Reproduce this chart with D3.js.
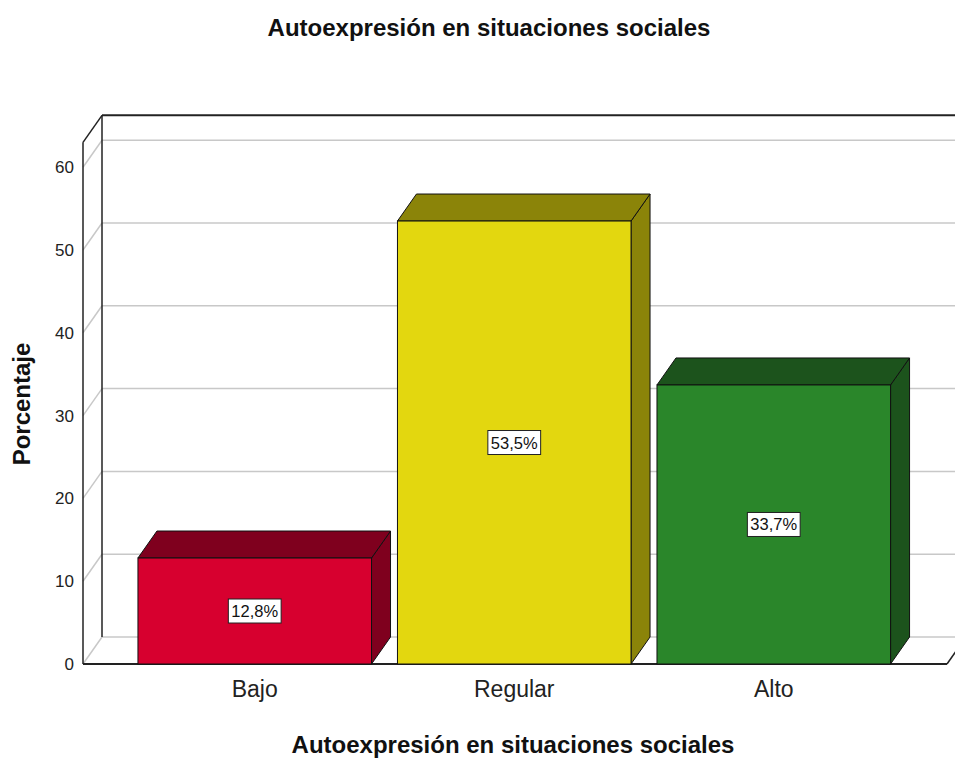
<!DOCTYPE html>
<html>
<head>
<meta charset="utf-8">
<script src="https://cdn.jsdelivr.net/npm/d3@7"></script>
<style>
  body { margin: 0; background: #fff; }
  svg { font-family: "Liberation Sans", Arial, sans-serif; }
</style>
</head>
<body>
<div id="chart"></div>
<script>
"use strict";

// data
var categories = ["Bajo", "Regular", "Alto"];
var percents = [12.8, 53.5, 33.7];
var labels = ["12,8%", "53,5%", "33,7%"];
var yTicks = [0, 10, 20, 30, 40, 50, 60];
var frontColors = ["#d7002f", "#e3d70f", "#2a862a"];
var darkColors = ["#7f001e", "#8b8409", "#1c531c"];

var W = 955, H = 760;
var dx = 19, dy = -27;          // depth offset of the 3d look
var left = 83, right = 947;     // front floor edge

var svg = d3.select("#chart").append("svg")
  .attr("width", W)
  .attr("height", H);

var y = d3.scaleLinear()
  .domain([0, 63])
  .range([664, 664 - 63 * 8.28]);

var x = d3.scaleBand()
  .domain(categories)
  .range([112, 916.5])
  .paddingInner(0.1)
  .paddingOuter(0.1);

// floor
svg.append("polygon")
  .attr("points", [[left, y(0)], [right, y(0)], [right + dx, y(0) + dy], [left + dx, y(0) + dy]].join(" "))
  .attr("fill", "#fff");

// back wall grid + left wall grid
yTicks.forEach(function(v) {
  svg.append("line")
    .attr("x1", left + dx).attr("x2", W + 20)
    .attr("y1", y(v) + dy).attr("y2", y(v) + dy)
    .attr("stroke", "#c8c8c8").attr("stroke-width", 1.5);
  svg.append("line")
    .attr("x1", left).attr("x2", left + dx)
    .attr("y1", y(v)).attr("y2", y(v) + dy)
    .attr("stroke", "#c8c8c8").attr("stroke-width", 1.5);
});

// wall frame
svg.append("line")
  .attr("x1", left + dx).attr("x2", left + dx)
  .attr("y1", y(0) + dy).attr("y2", y(63) + dy)
  .attr("stroke", "#222").attr("stroke-width", 1.5);
svg.append("line")
  .attr("x1", left + dx).attr("x2", W + 20)
  .attr("y1", y(63) + dy).attr("y2", y(63) + dy)
  .attr("stroke", "#222").attr("stroke-width", 2);
svg.append("line")
  .attr("x1", left).attr("x2", left + dx)
  .attr("y1", y(63)).attr("y2", y(63) + dy)
  .attr("stroke", "#222").attr("stroke-width", 1.5);

// floor edges
svg.append("line")
  .attr("x1", left).attr("x2", right)
  .attr("y1", y(0)).attr("y2", y(0))
  .attr("stroke", "#222").attr("stroke-width", 2);
svg.append("line")
  .attr("x1", right).attr("x2", right + dx)
  .attr("y1", y(0)).attr("y2", y(0) + dy)
  .attr("stroke", "#222").attr("stroke-width", 1.5);

// bars
var bars = svg.selectAll(".bar")
  .data(percents)
  .enter().append("g")
  .attr("class", "bar");

bars.each(function(d, i) {
  var g = d3.select(this);
  var x0 = x(categories[i]), x1 = x0 + x.bandwidth();
  var yt = y(d), yb = y(0);

  g.append("polygon")
    .attr("points", [[x1, yt], [x1 + dx, yt + dy], [x1 + dx, yb + dy], [x1, yb]].join(" "))
    .attr("fill", darkColors[i]).attr("stroke", "#111").attr("stroke-width", 1);
  g.append("polygon")
    .attr("points", [[x0, yt], [x0 + dx, yt + dy], [x1 + dx, yt + dy], [x1, yt]].join(" "))
    .attr("fill", darkColors[i]).attr("stroke", "#111").attr("stroke-width", 1);
  g.append("rect")
    .attr("x", x0).attr("y", yt)
    .attr("width", x.bandwidth()).attr("height", yb - yt)
    .attr("fill", frontColors[i]).attr("stroke", "#111").attr("stroke-width", 1);

  var cx = x0 + x.bandwidth() / 2, cy = (yt + yb) / 2;
  var box = g.append("rect")
    .attr("fill", "#fff").attr("stroke", "#222").attr("stroke-width", 1);
  var t = g.append("text")
    .attr("x", cx).attr("y", cy + 6)
    .attr("text-anchor", "middle")
    .attr("font-size", 16.5)
    .attr("fill", "#111")
    .text(labels[i]);
  var tw = t.node().getComputedTextLength();
  box.attr("x", cx - tw / 2 - 3).attr("y", cy - 12)
    .attr("width", tw + 6).attr("height", 24);
});

// y axis
var yAxis = svg.append("g")
  .attr("transform", "translate(" + left + ",0)")
  .call(d3.axisLeft(y).tickValues(yTicks).tickSize(0).tickPadding(9));
yAxis.select(".domain").remove();
yAxis.selectAll("text").attr("font-size", 17).attr("fill", "#222").style("font-family", "Liberation Sans, Arial, sans-serif");
svg.append("line")
  .attr("x1", left).attr("x2", left)
  .attr("y1", y(0)).attr("y2", y(63))
  .attr("stroke", "#222").attr("stroke-width", 1.5);

// x axis labels
var xAxis = svg.append("g")
  .attr("transform", "translate(0," + y(0) + ")")
  .call(d3.axisBottom(x).tickSize(0).tickPadding(17));
xAxis.select(".domain").remove();
xAxis.selectAll("text").attr("font-size", 23).attr("fill", "#222").style("font-family", "Liberation Sans, Arial, sans-serif");

// titles
svg.append("text")
  .attr("x", 489).attr("y", 36)
  .attr("text-anchor", "middle")
  .attr("font-size", 24).attr("font-weight", "bold")
  .attr("fill", "#111")
  .text("Autoexpresión en situaciones sociales");

svg.append("text")
  .attr("x", 513).attr("y", 753)
  .attr("text-anchor", "middle")
  .attr("font-size", 24).attr("font-weight", "bold")
  .attr("fill", "#111")
  .text("Autoexpresión en situaciones sociales");

svg.append("text")
  .attr("transform", "translate(30,404) rotate(-90)")
  .attr("text-anchor", "middle")
  .attr("font-size", 24).attr("font-weight", "bold")
  .attr("fill", "#111")
  .text("Porcentaje");
</script>
</body>
</html>
